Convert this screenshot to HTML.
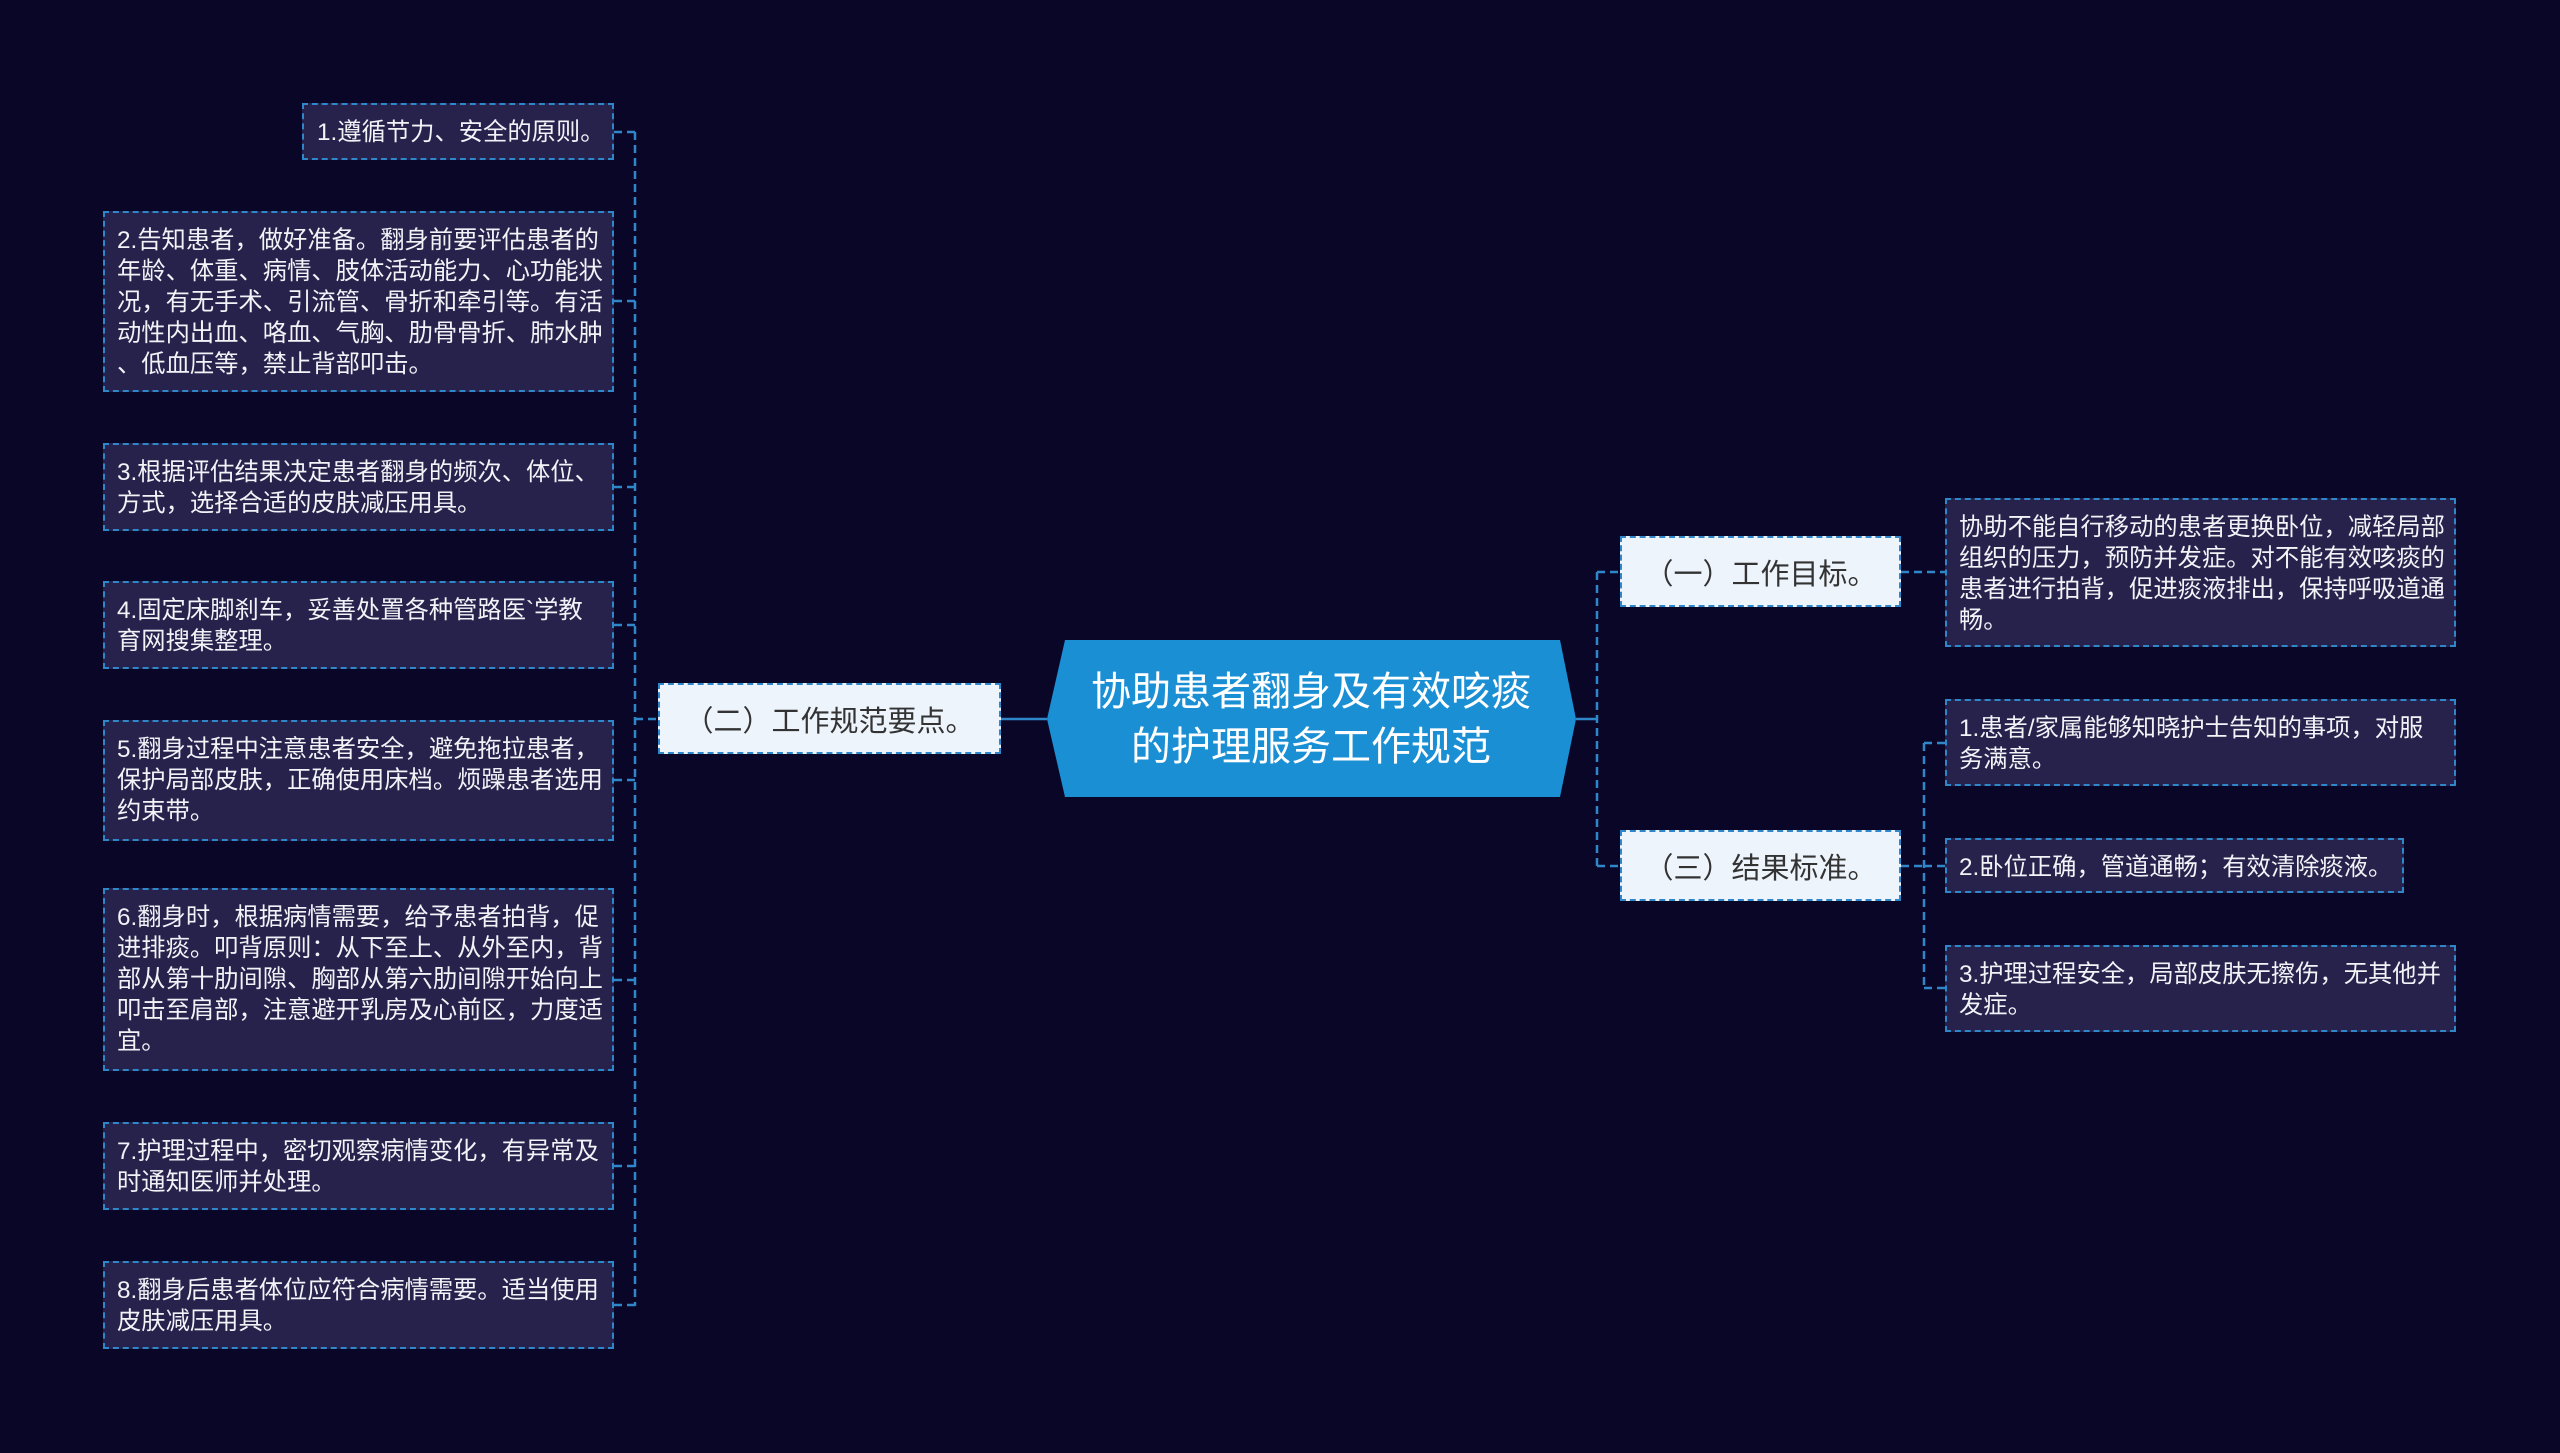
<!DOCTYPE html>
<html><head><meta charset="utf-8"><style>
html,body{margin:0;padding:0;background:#0a0628;}
#c{position:relative;width:2560px;height:1453px;overflow:hidden;background:#0a0628;font-family:"Liberation Sans","Noto Sans CJK SC",sans-serif;}
.b{position:absolute;box-sizing:border-box;border:2px dashed #2f86c8;background:#26224c;color:#f2f2f7;font-size:24.3px;line-height:31px;padding:12px 0 12px 12px;white-space:nowrap;overflow:hidden;}
.n{position:absolute;box-sizing:border-box;border:2px dashed #2f86c8;background:#eef4fc;color:#333;font-size:29px;display:flex;align-items:center;justify-content:center;}
svg{position:absolute;left:0;top:0;}
</style></head><body><div id="c">
<svg width="2560" height="1453">
<g stroke="#2f86c8" stroke-width="2.5" stroke-dasharray="8 5" fill="none">
<path d="M635 132V1306"/>
<path d="M614 132H635M614 301H635M614 487H635M614 625H635M614 780H635M614 980H635M614 1166H635M614 1305H635"/>
<path d="M635 719H658"/>
<path d="M1001 719H1047" stroke-dasharray="none"/>
<path d="M1576 719H1597" stroke-dasharray="none"/>
<path d="M1597 572V866M1597 572H1620M1597 866H1620"/>
<path d="M1901 572H1945"/>
<path d="M1901 866H1924M1924 743V988M1924 743H1945M1924 866H1945M1924 988H1945"/>
</g>
<polygon points="1047,719 1065,640 1560,640 1576,719 1560,797 1065,797" fill="#1a8fd4"/>
<text x="1311" y="705" fill="#fff" font-size="40" text-anchor="middle" font-family="Liberation Sans, Noto Sans CJK SC, sans-serif">协助患者翻身及有效咳痰</text>
<text x="1311" y="760" fill="#fff" font-size="40" text-anchor="middle" font-family="Liberation Sans, Noto Sans CJK SC, sans-serif">的护理服务工作规范</text>
</svg>
<div class="b" style="left:302px;top:103px;width:312px;height:57px;padding-left:13px;">1.遵循节力、安全的原则。</div>
<div class="b" style="left:103px;top:211px;width:511px;height:181px;">2.告知患者，做好准备。翻身前要评估患者的<br>年龄、体重、病情、肢体活动能力、心功能状<br>况，有无手术、引流管、骨折和牵引等。有活<br>动性内出血、咯血、气胸、肋骨骨折、肺水肿<br>、低血压等，禁止背部叩击。</div>
<div class="b" style="left:103px;top:443px;width:511px;height:88px;">3.根据评估结果决定患者翻身的频次、体位、<br>方式，选择合适的皮肤减压用具。</div>
<div class="b" style="left:103px;top:581px;width:511px;height:88px;">4.固定床脚刹车，妥善处置各种管路医`学教<br>育网搜集整理。</div>
<div class="b" style="left:103px;top:720px;width:511px;height:121px;">5.翻身过程中注意患者安全，避免拖拉患者，<br>保护局部皮肤，正确使用床档。烦躁患者选用<br>约束带。</div>
<div class="b" style="left:103px;top:888px;width:511px;height:183px;">6.翻身时，根据病情需要，给予患者拍背，促<br>进排痰。叩背原则：从下至上、从外至内，背<br>部从第十肋间隙、胸部从第六肋间隙开始向上<br>叩击至肩部，注意避开乳房及心前区，力度适<br>宜。</div>
<div class="b" style="left:103px;top:1122px;width:511px;height:88px;">7.护理过程中，密切观察病情变化，有异常及<br>时通知医师并处理。</div>
<div class="b" style="left:103px;top:1261px;width:511px;height:88px;">8.翻身后患者体位应符合病情需要。适当使用<br>皮肤减压用具。</div>
<div class="n" style="left:658px;top:683px;width:343px;height:71px;">（二）工作规范要点。</div>
<div class="n" style="left:1620px;top:536px;width:281px;height:71px;">（一）工作目标。</div>
<div class="n" style="left:1620px;top:830px;width:281px;height:71px;">（三）结果标准。</div>
<div class="b" style="left:1945px;top:498px;width:511px;height:149px;">协助不能自行移动的患者更换卧位，减轻局部<br>组织的压力，预防并发症。对不能有效咳痰的<br>患者进行拍背，促进痰液排出，保持呼吸道通<br>畅。</div>
<div class="b" style="left:1945px;top:699px;width:511px;height:87px;">1.患者/家属能够知晓护士告知的事项，对服<br>务满意。</div>
<div class="b" style="left:1945px;top:838px;width:459px;height:55px;">2.卧位正确，管道通畅；有效清除痰液。</div>
<div class="b" style="left:1945px;top:945px;width:511px;height:87px;">3.护理过程安全，局部皮肤无擦伤，无其他并<br>发症。</div>
</div></body></html>
